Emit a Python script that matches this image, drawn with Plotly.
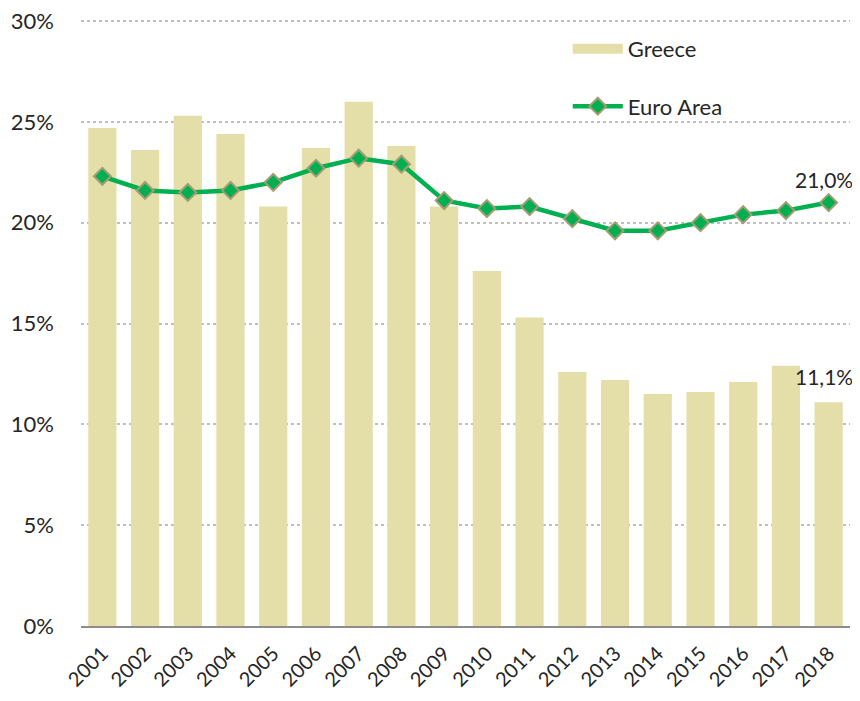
import plotly.graph_objects as go

years = [str(y) for y in range(2001, 2019)]
greece = [24.7, 23.6, 25.3, 24.4, 20.8, 23.7, 26.0, 23.8, 20.8, 17.6, 15.3, 12.6, 12.2, 11.5, 11.6, 12.1, 12.9, 11.1]
euro_area = [22.3, 21.6, 21.5, 21.6, 22.0, 22.7, 23.2, 22.9, 21.1, 20.7, 20.8, 20.2, 19.6, 19.6, 20.0, 20.4, 20.6, 21.0]
y_ticks = [0, 5, 10, 15, 20, 25, 30]
y_tick_labels = ["0%", "5%", "10%", "15%", "20%", "25%", "30%"]

FONT = "Lato, Open Sans, sans-serif"
TXT = "#262626"
BAR_COLOR = "#E4DFA8"

fig = go.Figure()
fig.add_trace(go.Bar(
    x=years, y=greece, name="Greece",
    marker=dict(color=BAR_COLOR, line=dict(width=0)),
    showlegend=False,
))
# legend swatch for Greece (wide rectangle look)
fig.add_trace(go.Scatter(
    x=[None], y=[None], name="Greece", mode="lines",
    line=dict(color=BAR_COLOR, width=15),
    legendgroup="g", showlegend=True,
))
fig.add_trace(go.Scatter(
    x=years, y=euro_area, name="Euro Area", mode="lines+markers",
    line=dict(color="#00B050", width=4.5),
    marker=dict(symbol="diamond", size=13, color="#00B050",
                line=dict(color="#A39C74", width=2)),
    legendgroup="e",
))

last = len(years) - 1
fig.add_annotation(x=last, y=euro_area[-1], text=f"{euro_area[-1]:.1f}%".replace(".", ","),
                   showarrow=False, yshift=23, xshift=-5, font=dict(size=21, color=TXT, family=FONT))
fig.add_annotation(x=last, y=greece[-1], text=f"{greece[-1]:.1f}%".replace(".", ","),
                   showarrow=False, yshift=26, xshift=-5, font=dict(size=21, color=TXT, family=FONT))

fig.update_layout(
    width=852, height=693,
    margin=dict(l=73, r=10, t=7, b=75, autoexpand=False),
    paper_bgcolor="white", plot_bgcolor="white",
    font=dict(family=FONT, color=TXT, size=22),
    bargap=0.34,
    showlegend=True,
    legend=dict(x=0.633, y=0.979, xanchor="left", yanchor="top",
                bgcolor="rgba(0,0,0,0)", font=dict(size=22, color=TXT),
                traceorder="grouped", tracegroupgap=26, itemwidth=50),
    xaxis=dict(
        type="category", range=[-0.5, len(years) - 0.5],
        tickangle=-45, tickfont=dict(size=20, color=TXT),
        showgrid=False, showline=True, linecolor="#8c8c8c", linewidth=2,
        ticks="", zeroline=False, automargin=False,
        ticklabelstandoff=6, ticklabeloverflow="allow",
    ),
    yaxis=dict(
        range=[0, 30.3], tickvals=y_ticks, ticktext=y_tick_labels,
        showgrid=True, gridcolor="#bfbfbf", griddash="dot", gridwidth=1.5,
        zeroline=False, showline=False, ticks="", automargin=False,
        tickfont=dict(size=22, color=TXT), ticklabelstandoff=26,
        ticklabeloverflow="allow",
    ),
)

fig.write_html("out.html")
